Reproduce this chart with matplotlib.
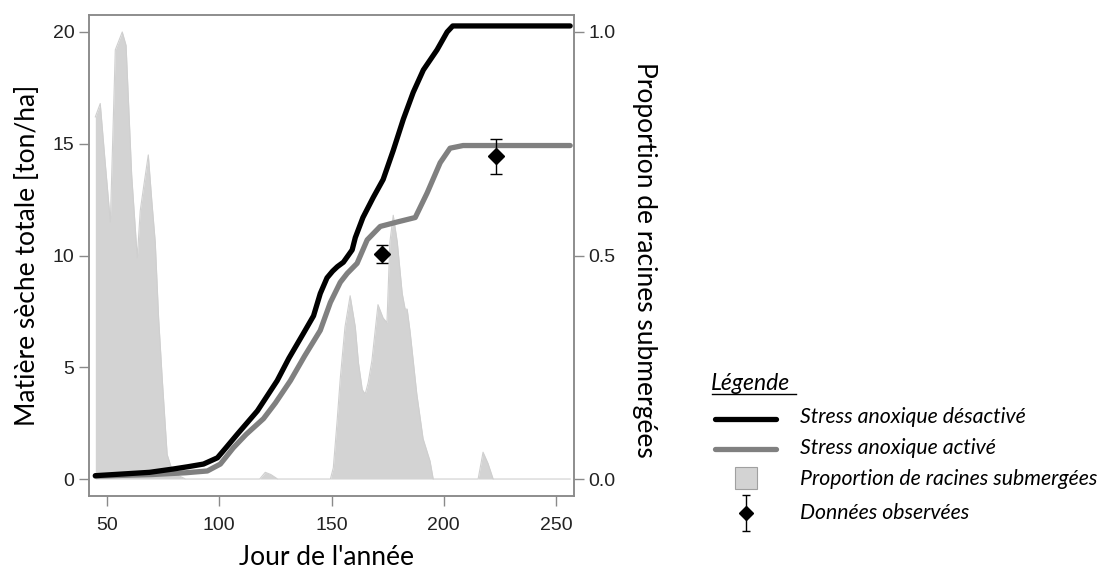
import matplotlib

matplotlib.use("Agg")
import matplotlib.pyplot as plt
import numpy as np

# simulated biomass, stress anoxique desactive (ton/ha)
days_off = [44.8, 69, 79.6, 86, 93, 99.2, 103, 108, 117, 125.8, 131, 137.4, 142,
            145, 148, 150.5, 152.6, 155.3, 159.2, 160.6, 164, 168.6, 173, 177.5,
            182, 186.4, 190.9, 197, 201.5, 204, 256.3]
dm_off = [0.15, 0.3, 0.45, 0.55, 0.67, 0.95, 1.4, 2.0, 3.05, 4.4, 5.4, 6.5, 7.3,
          8.3, 9.0, 9.3, 9.5, 9.7, 10.25, 10.8, 11.7, 12.6, 13.4, 14.7,
          16.1, 17.3, 18.3, 19.2, 20.0, 20.27, 20.27]

# simulated biomass, stress anoxique active (ton/ha)
days_on = [44.8, 70, 85, 94.7, 100.5, 106.3, 112, 119.7, 125, 131.7, 138, 145,
           149.5, 153.9, 157, 161.4, 165.9, 171.7, 179.3, 187.3, 192.6, 198.4,
           202.8, 208.6, 256.3]
dm_on = [0.13, 0.2, 0.28, 0.36, 0.67, 1.4, 2.0, 2.7, 3.4, 4.4, 5.5, 6.65,
         7.9, 8.8, 9.2, 9.65, 10.7, 11.3, 11.5, 11.7, 12.8, 14.15,
         14.8, 14.92, 14.92]

# proportion de racines submergees (0-1)
days_sub = [44.8, 47, 49, 51.5, 53.7, 56.8, 58.5, 61, 63.5, 64.8, 66.5, 68.4,
            70, 71.5, 73, 74.6, 76.8, 79, 81, 85, 118, 120.5, 123, 126, 149.5,
            150.8, 152.5, 153.9, 156, 158.3, 160.6, 162, 163.7, 165, 166.3, 168,
            170.7, 173, 174.7, 176, 177.5, 179.3, 181.5, 182.8, 183.7, 185,
            186.5, 188, 190.8, 193.9, 195.3, 215.3, 217.5, 219.7, 222, 256.3]
prop_sub = [0.81, 0.84, 0.72, 0.575, 0.96, 1.0, 0.97, 0.68, 0.495, 0.6, 0.66,
            0.725, 0.62, 0.53, 0.36, 0.225, 0.055, 0.02, 0.01, 0.0, 0.0, 0.015,
            0.01, 0.0, 0.0, 0.025, 0.13, 0.225, 0.34, 0.41, 0.34, 0.26, 0.2,
            0.19, 0.215, 0.265, 0.39, 0.36, 0.35, 0.53, 0.59, 0.53, 0.415,
            0.38, 0.38, 0.33, 0.26, 0.19, 0.09, 0.04, 0.0, 0.0, 0.06, 0.035,
            0.0, 0.0]

# donnees observees
obs_days = [172.6, 223.3]
obs_dm = [10.07, 14.43]
obs_err = [0.4, 0.8]

FONT = ["Lato", "DejaVu Sans"]
FRAME = "#8a8a8a"

fig = plt.figure(figsize=(11.1, 5.7), dpi=100)
ax = fig.add_axes([0.0802, 0.1298, 0.4369, 0.8439])
ax2 = ax.twinx()
ax.set_zorder(ax2.get_zorder() + 1)
ax.patch.set_visible(False)

ax2.fill_between(days_sub, prop_sub, 0, color="#d3d3d3", lw=0)
ax2.plot(days_sub, prop_sub, color="#cfcfcf", lw=0.8)
ax2.set_ylim(-0.038, 1.038)
ax2.set_yticks([0.0, 0.5, 1.0])
ax2.set_yticklabels(["0.0", "0.5", "1.0"])

ax.plot(days_on, dm_on, color="#808080", lw=3.8, solid_capstyle="round")
ax.plot(days_off, dm_off, color="black", lw=3.8, solid_capstyle="round")
ax.errorbar(obs_days, obs_dm, yerr=obs_err, fmt="D", color="black", ms=8,
            elinewidth=1, capsize=4, capthick=1)

ax.set_xlim(42, 258)
ax.set_ylim(-0.76, 20.76)
ax.set_xticks([50, 100, 150, 200, 250])
ax.set_yticks([0, 5, 10, 15, 20])

for a in (ax, ax2):
    for s in a.spines.values():
        s.set_color(FRAME)
        s.set_linewidth(1.1)
    a.tick_params(colors=FRAME, labelcolor="#222222", labelsize=14,
                  length=7, width=1)
    for lab in a.get_xticklabels() + a.get_yticklabels():
        lab.set_family(["Liberation Sans", "DejaVu Sans"])
ax.tick_params(axis="x", pad=8)

ax.set_xlabel("Jour de l'année", fontsize=19, family=FONT, va="center")
ax.xaxis.set_label_coords(0.49, -0.127)
ax.set_ylabel("Matière sèche totale [ton/ha]", fontsize=19, family=FONT,
              va="center")
ax.yaxis.set_label_coords(-0.126, 0.5)
ax2.set_ylabel("Proportion de racines submergées", fontsize=19, family=FONT,
               rotation=270, va="center")
ax2.yaxis.set_label_coords(1.146, 0.49)

# legend drawn on an overlay in pixel coordinates
lg = fig.add_axes([0, 0, 1, 1])
lg.set_xlim(0, 1110)
lg.set_ylim(570, 0)
lg.axis("off")
lg.text(711, 384, "Légende", fontsize=16.5, style="italic", family=FONT,
        va="center", ha="left")
lg.plot([712, 796], [394, 394], color="black", lw=1)
lg.plot([715, 776], [419, 419], color="black", lw=3.8, solid_capstyle="round")
lg.plot([715, 776], [449, 449], color="#808080", lw=3.8, solid_capstyle="round")
lg.add_patch(plt.Rectangle((735, 467), 22, 22, facecolor="#d3d3d3",
                           edgecolor="#a0a0a0", lw=0.8))
lg.errorbar([746], [513], yerr=[[18], [18]], fmt="D", color="black", ms=7,
            elinewidth=1, capsize=3, capthick=1)
items = ["Stress anoxique désactivé", "Stress anoxique activé",
         "Proportion de racines submergées", "Données observées"]
for txt, y in zip(items, [417, 448, 479, 513]):
    lg.text(800, y, txt, fontsize=15.3, style="italic", family=FONT,
            va="center", ha="left")

fig.savefig("out.png", dpi=100)
